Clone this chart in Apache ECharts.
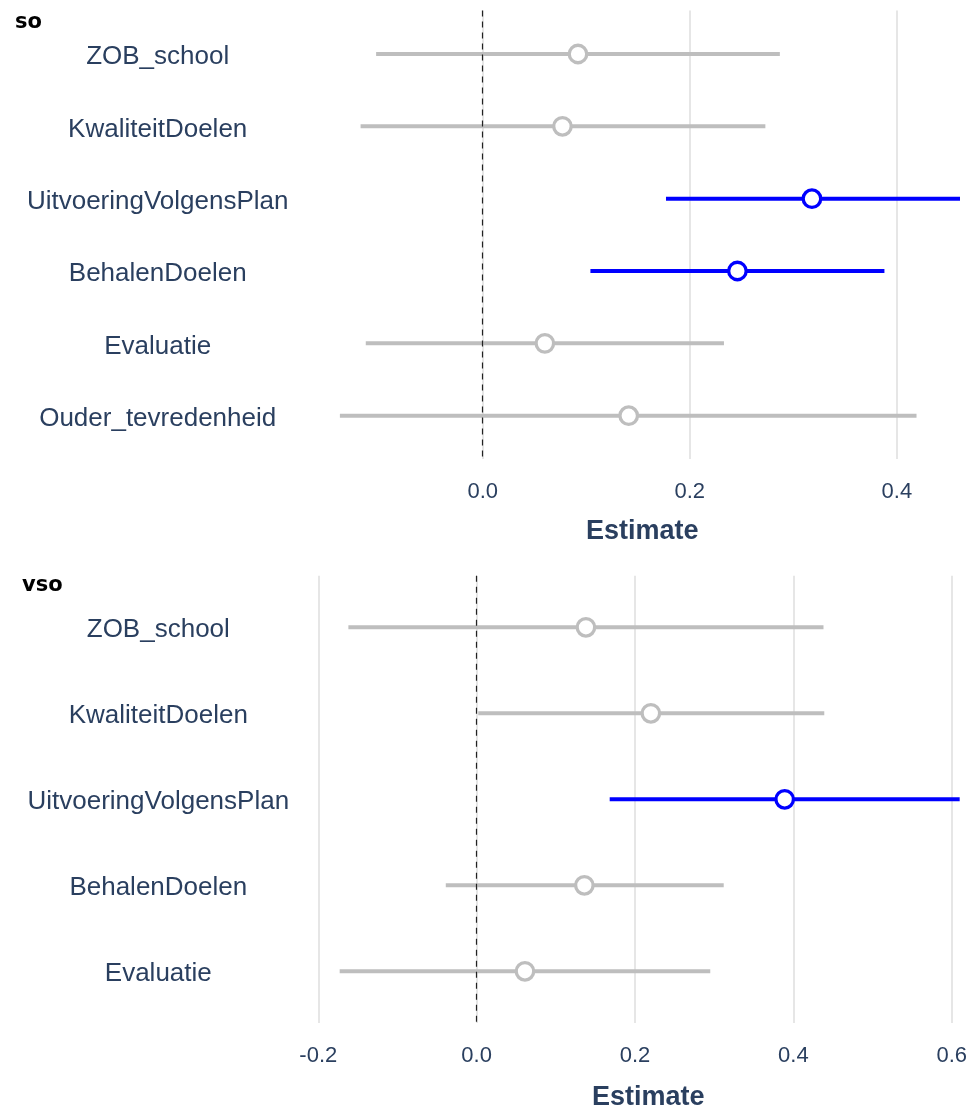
<!DOCTYPE html>
<html>
<head>
<meta charset="utf-8">
<script src="https://cdn.jsdelivr.net/npm/echarts@6/dist/echarts.min.js"></script>
<style>
html,body{margin:0;padding:0;background:#fff;}
#chart{width:975px;height:1108px;}
</style>
</head>
<body>
<div id="chart"></div>
<script>
// ---- data: panel "so" ----
const soTitle = 'so';
const soCats = ['ZOB_school', 'KwaliteitDoelen', 'UitvoeringVolgensPlan', 'BehalenDoelen', 'Evaluatie', 'Ouder_tevredenheid'];
const soEst  = [0.092, 0.077, 0.318, 0.246, 0.060, 0.141];
const soLow  = [-0.103, -0.118, 0.177, 0.104, -0.113, -0.138];
const soHigh = [0.287, 0.273, 0.461, 0.388, 0.233, 0.419];
const soSig  = [false, false, true, true, false, false];

// ---- data: panel "vso" ----
const vsoTitle = 'vso';
const vsoCats = ['ZOB_school', 'KwaliteitDoelen', 'UitvoeringVolgensPlan', 'BehalenDoelen', 'Evaluatie'];
const vsoEst  = [0.138, 0.220, 0.389, 0.136, 0.061];
const vsoLow  = [-0.162, 0.002, 0.168, -0.039, -0.173];
const vsoHigh = [0.438, 0.439, 0.610, 0.312, 0.295];
const vsoSig  = [false, false, true, false, false];

const xAxisTitle = 'Estimate';
const tickStep = 0.2;

// ---- styling ----
const FONT = "'Liberation Sans', Arial, sans-serif";
const TXT = '#2a3f5f';
const GREY = '#bebebe';
const BLUE = '#0000ff';

const chart = echarts.init(document.getElementById('chart'), null, {renderer: 'canvas'});

function panel(idx, cats, est, low, high, sig, xcfg) {
  const bars = cats.map((c, i) => ({value: [low[i], high[i], i], sig: sig[i]}));
  const pts = cats.map((c, i) => ({
    value: [est[i], i],
    itemStyle: {color: '#ffffff', borderColor: sig[i] ? BLUE : GREY, borderWidth: 3.3, opacity: 1}
  }));
  const xAxis = {
    type: 'value', gridIndex: idx, min: xcfg.min, max: xcfg.max, interval: tickStep,
    axisLine: {show: false}, axisTick: {show: false},
    splitLine: {show: true, showMinLine: xcfg.showMin, showMaxLine: false,
                lineStyle: {color: '#e6e6e6', width: 2}},
    axisLabel: {show: true, showMinLabel: xcfg.showMin, showMaxLabel: false,
                margin: xcfg.labelMargin, fontSize: 22, color: TXT, fontFamily: FONT,
                formatter: v => v.toFixed(1)},
    name: xAxisTitle, nameLocation: 'middle', nameGap: xcfg.nameGap,
    nameTextStyle: {fontSize: 27, fontWeight: 'bold', color: TXT, fontFamily: FONT,
                    padding: [0, 0, 0, xcfg.namePad]}
  };
  const yAxis = {
    type: 'value', gridIndex: idx, inverse: true, min: -0.6, max: cats.length - 0.4,
    axisLine: {show: false}, axisTick: {show: false}, splitLine: {show: false},
    axisLabel: {
      show: true, customValues: cats.map((c, i) => i), align: 'center',
      verticalAlign: 'top', lineHeight: 6,
      margin: xcfg.yLabelMargin, fontSize: 26, color: TXT, fontFamily: FONT,
      formatter: v => (Number.isInteger(v) && cats[v] !== undefined) ? cats[v] : ''
    }
  };
  const series = [
    {
      type: 'custom', xAxisIndex: idx, yAxisIndex: idx, clip: true, z: 2,
      data: bars, encode: {x: [0, 1], y: 2},
      renderItem: (params, api) => {
        const a = api.coord([api.value(0), api.value(2)]);
        const b = api.coord([api.value(1), api.value(2)]);
        const s = bars[params.dataIndex].sig;
        return {type: 'line', shape: {x1: a[0], y1: a[1], x2: b[0], y2: b[1]},
                style: {stroke: s ? BLUE : GREY, lineWidth: 4}};
      },
      markLine: {
        silent: true, symbol: ['none', 'none'], label: {show: false},
        lineStyle: {color: '#222', width: 1.2, type: [6, 5], opacity: 1},
        emphasis: {disabled: true},
        data: [{xAxis: 0}]
      }
    },
    {
      type: 'scatter', xAxisIndex: idx, yAxisIndex: idx, z: 4,
      symbol: 'circle', symbolSize: 17.5, data: pts, silent: true,
      itemStyle: {opacity: 1}
    }
  ];
  return {xAxis, yAxis, series};
}

const p1 = panel(0, soCats, soEst, soLow, soHigh, soSig,
  {min: -0.2, max: 0.461, showMin: false, labelMargin: 22, nameGap: 59, namePad: 49, yLabelMargin: 118});
const p2 = panel(1, vsoCats, vsoEst, vsoLow, vsoHigh, vsoSig,
  {min: -0.2, max: 0.6104, showMin: true, labelMargin: 22, nameGap: 61, namePad: 18, yLabelMargin: 160});

chart.setOption({
  backgroundColor: '#ffffff',
  animation: false,
  title: [
    {text: soTitle, left: 15, top: 12, padding: 0, textStyle: {fontSize: 21, fontWeight: 'bold', color: '#000', fontFamily: "'DejaVu Sans', sans-serif"}},
    {text: vsoTitle, left: 22, top: 575, padding: 0, textStyle: {fontSize: 21, fontWeight: 'bold', color: '#000', fontFamily: "'DejaVu Sans', sans-serif"}}
  ],
  grid: [
    {left: 275.7, right: 15, top: 10.6, height: 448.5, containLabel: false, outerBoundsMode: 'none'},
    {left: 318.3, right: 15, top: 575.7, height: 447.2, containLabel: false, outerBoundsMode: 'none'}
  ],
  xAxis: [p1.xAxis, p2.xAxis],
  yAxis: [p1.yAxis, p2.yAxis],
  series: [...p1.series, ...p2.series]
});
</script>
</body>
</html>
